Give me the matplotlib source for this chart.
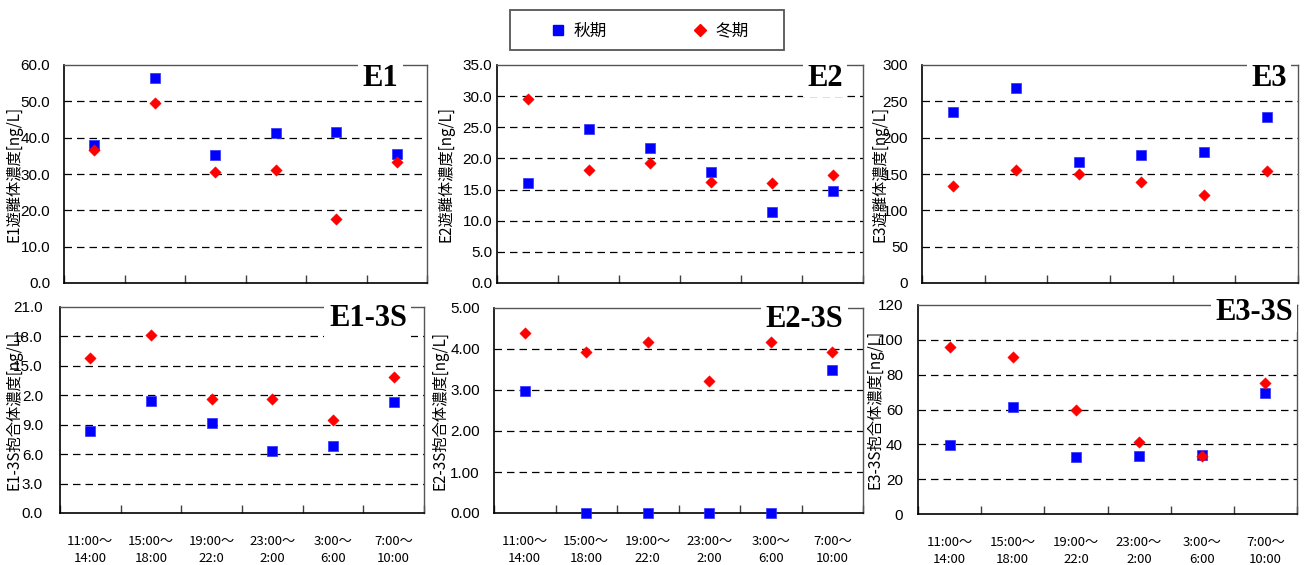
"""E1/E2/E3 free and conjugate concentrations, autumn vs winter, by time slot."""

import matplotlib

matplotlib.use("Agg")

import matplotlib.pyplot as plt
from matplotlib.lines import Line2D
from matplotlib.patches import Rectangle
from matplotlib.ticker import FixedLocator, FixedFormatter

W, H = 1304, 565

CJK = ["Noto Sans CJK JP", "DejaVu Sans"]
NUM = ["Liberation Sans Narrow", "Liberation Sans", "DejaVu Sans"]

time_slots = ["11:00～\n14:00", "15:00～\n18:00", "19:00～\n22:0",
              "23:00～\n2:00", "3:00～\n6:00", "7:00～\n10:00"]
series_names = ["秋期", "冬期"]

e1_autumn = [38.0, 56.3, 35.2, 41.2, 41.6, 35.5]
e1_winter = [36.6, 49.6, 30.6, 31.2, 17.7, 33.2]

e2_autumn = [16.0, 24.7, 21.7, 17.8, 11.4, 14.8]
e2_winter = [29.5, 18.1, 19.2, 16.2, 16.0, 17.4]

e3_autumn = [236, 268, 166, 176, 180, 229]
e3_winter = [134, 156, 150, 139, 121, 154]

e1s_autumn = [8.4, 11.45, 9.15, 6.3, 6.85, 11.3]
e1s_winter = [15.8, 18.15, 11.65, 11.65, 9.5, 13.9]

e2s_autumn = [2.98, 0.0, 0.0, 0.0, 0.0, 3.50]
e2s_winter = [4.39, 3.93, 4.17, 3.22, 4.17, 3.93]

e3s_autumn = [39.7, 61.7, 32.7, 33.3, 33.7, 69.4]
e3s_winter = [95.7, 90.2, 60.0, 41.2, 33.3, 75.1]

e1_ticks = ["0.0", "10.0", "20.0", "30.0", "40.0", "50.0", "60.0"]
e2_ticks = ["0.0", "5.0", "10.0", "15.0", "20.0", "25.0", "30.0", "35.0"]
e3_ticks = ["0", "50", "100", "150", "200", "250", "300"]
e1s_ticks = ["0.0", "3.0", "6.0", "9.0", "2.0", "15.0", "18.0", "21.0"]
e2s_ticks = ["0.00", "1.00", "2.00", "3.00", "4.00", "5.00"]
e3s_ticks = ["0", "20", "40", "60", "80", "100", "120"]

BLUE = "#0000ff"
RED = "#ff0000"


def _rect(left, top, right, bottom):
    return [left / W, 1 - bottom / H, (right - left) / W, (bottom - top) / H]


def _draw_panel(fig, box, autumn, winter, ystep, ticks, ypad, ylabel, ylabel_x,
                title, title_xy, show_x):
    ax = fig.add_axes(_rect(*box))
    xs = [i + 0.5 for i in range(len(time_slots))]
    ymax = ystep * (len(ticks) - 1)

    ax.scatter(xs, autumn, marker="s", s=52, color=BLUE, edgecolors="#3030ff",
               linewidths=0.5, zorder=25, clip_on=False)
    ax.scatter(xs, winter, marker="D", s=34, color=RED, edgecolors=RED,
               linewidths=0.3, zorder=26, clip_on=False)

    ax.set_xlim(0, len(time_slots))
    ax.set_ylim(0, ymax)

    yvals = [ystep * i for i in range(len(ticks))]
    ax.yaxis.set_major_locator(FixedLocator(yvals))
    ax.yaxis.set_major_formatter(FixedFormatter(ticks))
    ax.tick_params(axis="y", length=0, pad=ypad * 0.72, labelsize=11)
    for lab in ax.get_yticklabels():
        lab.set_family(NUM)

    ax.xaxis.set_major_locator(FixedLocator(range(len(time_slots) + 1)))
    ax.xaxis.set_major_formatter(FixedFormatter([""] * (len(time_slots) + 1)))
    ax.tick_params(axis="x", which="major", direction="in", length=6,
                   width=1, color="#404040")
    ax.xaxis.set_minor_locator(FixedLocator(xs))
    if show_x:
        ax.xaxis.set_minor_formatter(FixedFormatter(time_slots))
        ax.tick_params(axis="x", which="minor", length=0, pad=16, labelsize=9.5)
        for lab in ax.get_xticklabels(minor=True):
            lab.set_family(CJK)
            lab.set_linespacing(1.4)
    else:
        ax.tick_params(axis="x", which="minor", length=0, labelbottom=False)

    for y in yvals[1:-1]:
        ax.axhline(y, color="black", lw=0.9, ls=(0, (6, 4)), zorder=1)

    for side in ("left", "bottom"):
        ax.spines[side].set_color("black")
        ax.spines[side].set_linewidth(1.2)
    for side in ("top", "right"):
        ax.spines[side].set_color("#555555")
        ax.spines[side].set_linewidth(1.0)

    ax.set_ylabel(ylabel, family=CJK, fontsize=11)
    ax.yaxis.set_label_coords(ylabel_x, 0.5)

    ax.text(title_xy[0], title_xy[1], title, transform=ax.transAxes,
            ha="right", va="baseline", fontsize=22, fontweight="bold",
            family=["Liberation Serif", "DejaVu Serif"], zorder=20,
            bbox=dict(boxstyle="square,pad=0.15", fc="white", ec="none"))
    return ax


fig = plt.figure(figsize=(W / 100, H / 100), dpi=100)
fig.patch.set_facecolor("white")

_draw_panel(fig, (64, 65, 427, 283), e1_autumn, e1_winter, 10, e1_ticks, 14,
            "E1遊離体濃度[ng/L]", -0.113, "E1", (0.92, 0.905), False)
_draw_panel(fig, (497, 65, 863, 283), e2_autumn, e2_winter, 5, e2_ticks, 5,
            "E2遊離体濃度[ng/L]", -0.117, "E2", (0.945, 0.905), False)
_draw_panel(fig, (922, 65, 1298, 283), e3_autumn, e3_winter, 50, e3_ticks, 14,
            "E3遊離体濃度[ng/L]", -0.09, "E3", (0.97, 0.905), False)
_draw_panel(fig, (60, 307, 424, 513), e1s_autumn, e1s_winter, 3, e1s_ticks, 17,
            "E1-3S抱合体濃度[ng/L]", -0.102, "E1-3S", (0.953, 0.908), True)
_draw_panel(fig, (494, 308, 863, 513), e2s_autumn, e2s_winter, 1, e2s_ticks, 14,
            "E2-3S抱合体濃度[ng/L]", -0.122, "E2-3S", (0.946, 0.907), True)
_draw_panel(fig, (918, 305, 1297, 514), e3s_autumn, e3s_winter, 20, e3s_ticks, 15,
            "E3-3S抱合体濃度[ng/L]", -0.09, "E3-3S", (0.989, 0.928), True)

# legend box drawn separately so its size can follow the reference
fig.patches.append(Rectangle((510 / W, 1 - 50 / H), 274 / W, 40 / H,
                             transform=fig.transFigure, fill=False,
                             edgecolor="#555555", linewidth=1.3))
handles = [
    Line2D([], [], marker="s", ls="none", color=BLUE, markersize=7),
    Line2D([], [], marker="D", ls="none", color=RED, markersize=6),
]
fig.legend(handles, series_names, loc="center",
           bbox_to_anchor=(650 / W, 1 - 31 / H), ncol=2, frameon=False,
           prop={"family": CJK, "size": 12}, handlelength=0.8,
           handletextpad=0.5, columnspacing=5.2, borderaxespad=0)

fig.savefig("out.png", dpi=100, facecolor="white")
